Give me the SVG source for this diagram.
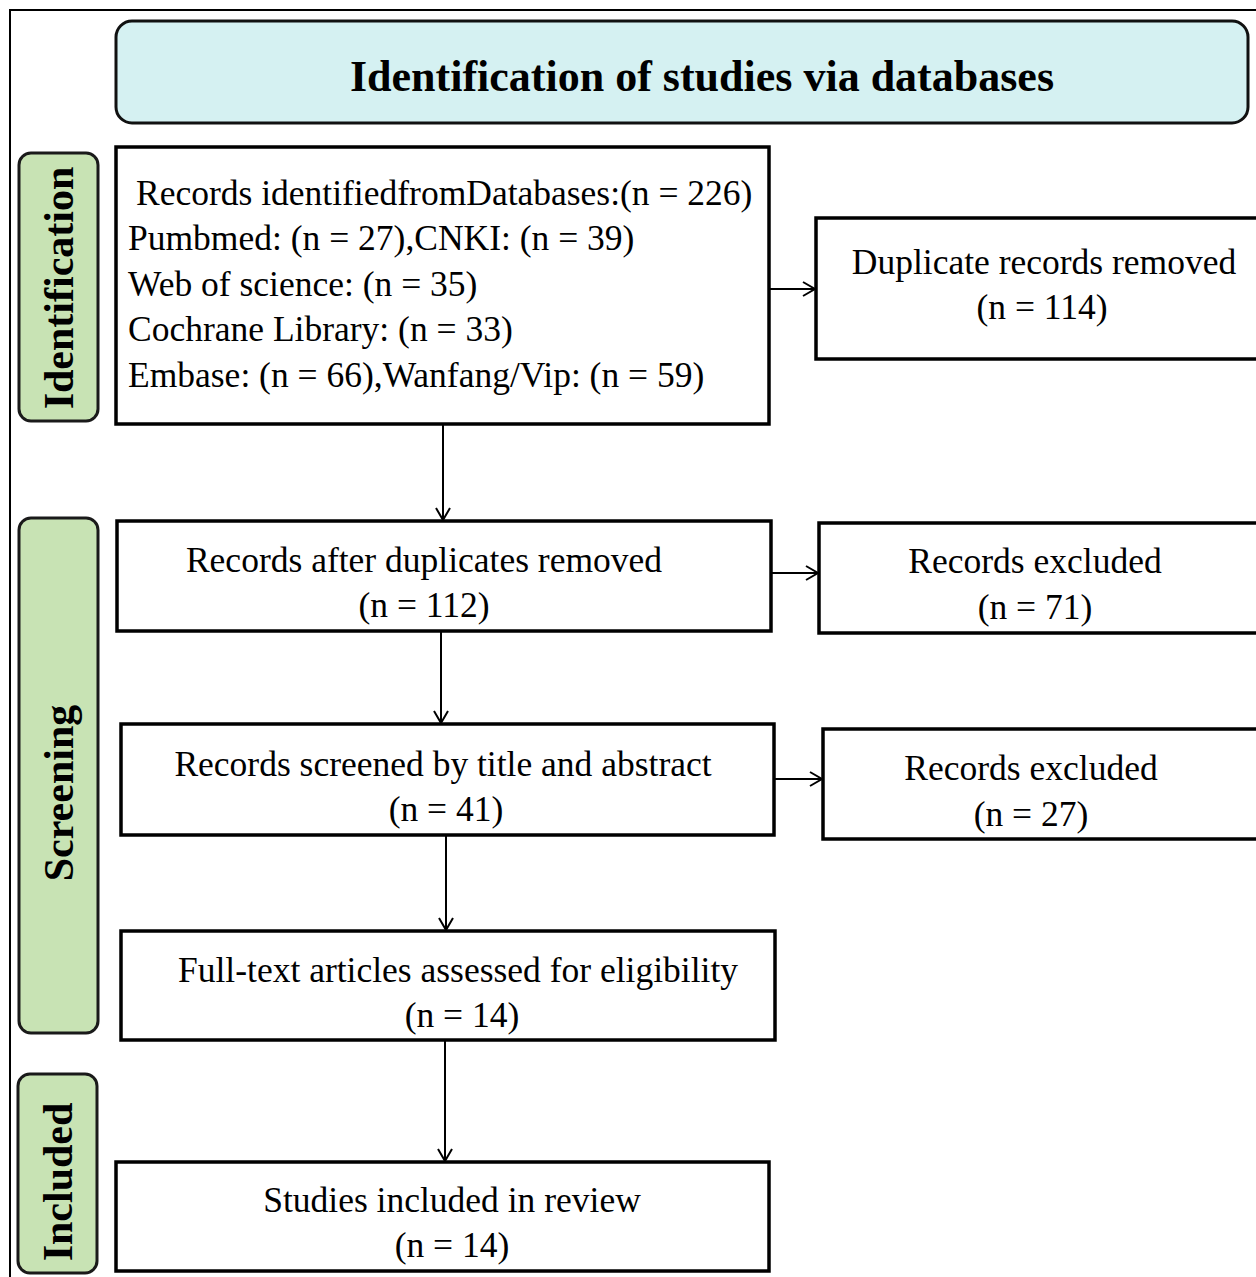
<svg xmlns="http://www.w3.org/2000/svg" width="1256" height="1277" viewBox="0 0 1256 1277">
<defs>
<marker id="arr" markerWidth="20" markerHeight="20" refX="14" refY="8" orient="auto" markerUnits="userSpaceOnUse">
<path d="M2,1 L14,8 L2,15" fill="none" stroke="#000" stroke-width="2"/>
</marker>
<style>
.box{fill:#fff;stroke:#000;stroke-width:3.5}
.phase{fill:#c8e3b4;stroke:#1a1a1a;stroke-width:3}
.t{font-family:"Liberation Serif","Times New Roman",serif;font-size:35.5px;fill:#000}
.c{text-anchor:middle}
.pt{font-family:"Liberation Serif","Times New Roman",serif;font-size:42px;font-weight:bold;fill:#000;text-anchor:middle}
.conn line{stroke:#000;stroke-width:2;marker-end:url(#arr)}
</style>
</defs>
<rect width="1256" height="1277" fill="#fff"/>
<rect x="10" y="10" width="1260" height="1290" fill="none" stroke="#000" stroke-width="2"/>
<g id="header">
<rect x="116" y="21" width="1132" height="102" rx="16" fill="#d5f1f2" stroke="#111" stroke-width="3"/>
<text x="702" y="91" class="pt" style="font-size:44px">Identification of studies via databases</text>
</g>
<g id="phase-identification">
<rect x="19" y="153" width="79" height="268" rx="12" class="phase"/>
<text class="pt" transform="translate(73,288) rotate(-90)">Identification</text>
</g>
<g id="phase-screening">
<rect x="19" y="518" width="79" height="515" rx="12" class="phase"/>
<text class="pt" transform="translate(73,793) rotate(-90)">Screening</text>
</g>
<g id="phase-included">
<rect x="18" y="1074" width="79" height="199" rx="12" class="phase"/>
<text class="pt" transform="translate(72,1182) rotate(-90)">Included</text>
</g>
<g id="n-identified">
<rect x="116" y="147" width="653" height="277" class="box"/>
<text class="t" x="136" y="205">Records identifiedfromDatabases:(n = 226)</text>
<text class="t" x="128" y="250">Pumbmed: (n = 27),CNKI: (n = 39)</text>
<text class="t" x="128" y="296">Web of science: (n = 35)</text>
<text class="t" x="128" y="341">Cochrane Library: (n = 33)</text>
<text class="t" x="128" y="387">Embase: (n = 66),Wanfang/Vip: (n = 59)</text>
</g>
<g id="n-duplicates">
<rect x="816" y="218" width="442" height="141" class="box"/>
<text class="t c" x="1044" y="274">Duplicate records removed</text>
<text class="t c" x="1042" y="319">(n = 114)</text>
</g>
<g id="n-after-dup">
<rect x="117" y="521" width="654" height="110" class="box"/>
<text class="t c" x="424" y="572">Records after duplicates removed</text>
<text class="t c" x="424" y="617">(n = 112)</text>
</g>
<g id="n-excluded1">
<rect x="819" y="523" width="440" height="110" class="box"/>
<text class="t c" x="1035" y="573">Records excluded</text>
<text class="t c" x="1035" y="619">(n = 71)</text>
</g>
<g id="n-screened">
<rect x="121" y="724" width="653" height="111" class="box"/>
<text class="t c" x="443" y="776">Records screened by title and abstract</text>
<text class="t c" x="446" y="821">(n = 41)</text>
</g>
<g id="n-excluded2">
<rect x="823" y="729" width="436" height="110" class="box"/>
<text class="t c" x="1031" y="780">Records excluded</text>
<text class="t c" x="1031" y="826">(n = 27)</text>
</g>
<g id="n-fulltext">
<rect x="121" y="931" width="654" height="109" class="box"/>
<text class="t c" x="458" y="982">Full-text articles assessed for eligibility</text>
<text class="t c" x="462" y="1027">(n = 14)</text>
</g>
<g id="n-included">
<rect x="116" y="1162" width="653" height="109" class="box"/>
<text class="t c" x="452" y="1212">Studies included in review</text>
<text class="t c" x="452" y="1257">(n = 14)</text>
</g>
<g id="connectors" class="conn">
<line x1="769" y1="289" x2="815" y2="289"/>
<line x1="443" y1="424" x2="443" y2="520"/>
<line x1="771" y1="573" x2="818" y2="573"/>
<line x1="441" y1="631" x2="441" y2="723"/>
<line x1="774" y1="779" x2="822" y2="779"/>
<line x1="446" y1="835" x2="446" y2="930"/>
<line x1="445" y1="1040" x2="445" y2="1161"/>
</g>
</svg>
